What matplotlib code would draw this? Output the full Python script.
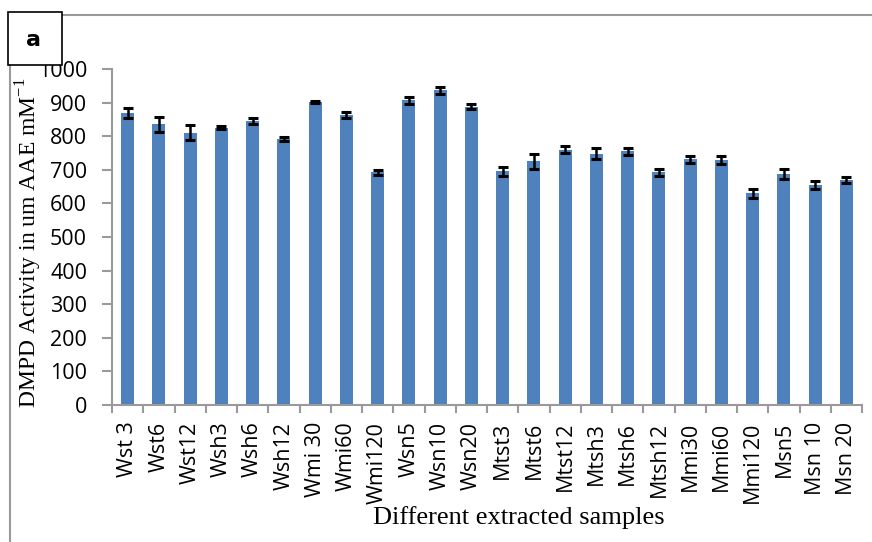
import numpy as np
import matplotlib
matplotlib.use("Agg")
import matplotlib.pyplot as plt
from matplotlib.patches import Rectangle

samples = ['Wst 3', 'Wst6', 'Wst12', 'Wsh3', 'Wsh6', 'Wsh12', 'Wmi 30', 'Wmi60',
           'Wmi120', 'Wsn5', 'Wsn10', 'Wsn20', 'Mtst3', 'Mtst6', 'Mtst12', 'Mtsh3',
           'Mtsh6', 'Mtsh12', 'Mmi30', 'Mmi60', 'Mmi120', 'Msn5', 'Msn 10', 'Msn 20']
activity = [870, 835, 810, 825, 845, 793, 903, 863, 692, 907, 937, 888,
            695, 725, 760, 748, 755, 693, 731, 730, 630, 687, 656, 670]
errors = [15, 23, 22, 4, 8, 6, 3, 10, 8, 10, 10, 8,
          13, 22, 10, 17, 10, 10, 10, 12, 13, 14, 12, 10]

W, H = 872, 542
fig = plt.figure(figsize=(W / 100, H / 100), dpi=100)

# outer frame (only top and left edges visible) and the panel tag
fig.patches.append(Rectangle((10 / W, -0.1), 1.2, (H - 15) / H + 0.1,
                             transform=fig.transFigure, fill=False,
                             edgecolor='#9a9a9a', lw=1.5, zorder=0))
fig.patches.append(Rectangle((8 / W, 1 - 65 / H), 54 / W, 53 / H,
                             transform=fig.transFigure, facecolor='white',
                             edgecolor='black', lw=1.2, zorder=1))
fig.text(33 / W, 1 - 40 / H, 'a', ha='center', va='center', fontsize=16,
         fontweight='bold', family='DejaVu Sans')

ax = fig.add_axes([112 / W, 1 - 405 / H, 750 / W, 336 / H])
x = np.arange(len(samples))
ax.bar(x, activity, width=0.42, color='#4f81bd', zorder=2)
ax.errorbar(x, activity, yerr=errors, fmt='none', ecolor='black',
            elinewidth=1.8, capsize=3.5, capthick=2.2, zorder=3)

ax.set_xlim(-0.5, len(samples) - 0.5)
ax.set_ylim(0, 1000)
ax.set_yticks(np.arange(0, 1001, 100))
ax.set_xticks(x)
ax.set_xticklabels(samples, rotation=90, family='Open Sans', fontsize=15.5)
ax.set_xticks(np.arange(-0.5, len(samples), 1), minor=True)
ax.tick_params(axis='x', which='major', length=0, pad=12)
ax.tick_params(axis='x', which='minor', length=6, width=1.5, color='#9a9a9a')
ax.tick_params(axis='y', length=7, width=1.5, color='#9a9a9a', pad=11)
for lab in ax.get_yticklabels():
    lab.set_family('Open Sans')
    lab.set_fontsize(15.5)

for s in ['top', 'right']:
    ax.spines[s].set_visible(False)
for s in ['left', 'bottom']:
    ax.spines[s].set_color('#9a9a9a')
    ax.spines[s].set_linewidth(1.5)

fig.text(29 / W, 1 - 243 / H, 'DMPD Activity in um AAE mM$^{\\mathregular{-1}}$',
         rotation=90, ha='center', va='center', fontsize=17,
         family='Liberation Serif')
fig.text(519 / W, 1 - 518 / H, 'Different extracted samples', ha='center',
         va='center', fontsize=19, family='Liberation Serif')

fig.savefig('out.png', dpi=100)
